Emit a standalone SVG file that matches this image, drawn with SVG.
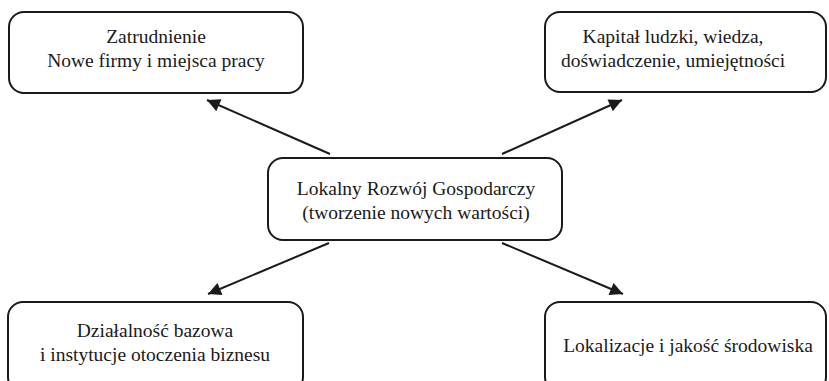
<svg xmlns="http://www.w3.org/2000/svg" width="829" height="381" viewBox="0 0 829 381">
  <style>
    .box { fill: #ffffff; stroke: #1a1a1a; stroke-width: 2; }
    .lbl { font-family: "Liberation Serif", "DejaVu Serif", serif; font-size: 19.5px; fill: #1a1a1a; text-anchor: middle; }
    .edge { stroke: #1a1a1a; stroke-width: 2; fill: none; marker-end: url(#arrow); }
  </style>
  <defs>
    <marker id="arrow" viewBox="0 0 10 10" refX="10" refY="5" markerWidth="8" markerHeight="6.5" markerUnits="strokeWidth" orient="auto">
      <path d="M0,0 L10,5 L0,10 Z" fill="#1a1a1a"/>
    </marker>
  </defs>
  <rect width="829" height="381" fill="#ffffff"/>

  <g id="connectors">
    <line class="edge" x1="330" y1="154" x2="207" y2="100"/>
    <line class="edge" x1="502" y1="154" x2="622" y2="100"/>
    <line class="edge" x1="329" y1="243" x2="208" y2="294"/>
    <line class="edge" x1="502" y1="243" x2="623" y2="294"/>
  </g>

  <g id="zatrudnienie">
    <rect class="box" x="9" y="12" width="294" height="81" rx="15"/>
    <text class="lbl" x="156" y="43">Zatrudnienie</text>
    <text class="lbl" x="156" y="67">Nowe firmy i miejsca pracy</text>
  </g>

  <g id="kapital">
    <rect class="box" x="545" y="12" width="281" height="80" rx="15"/>
    <text class="lbl" x="673" y="43">Kapitał ludzki, wiedza,</text>
    <text class="lbl" x="673" y="67">doświadczenie, umiejętności</text>
  </g>

  <g id="lrg">
    <rect class="box" x="268" y="158" width="294" height="82" rx="15"/>
    <text class="lbl" x="416" y="195">Lokalny Rozwój Gospodarczy</text>
    <text class="lbl" x="416" y="219">(tworzenie nowych wartości)</text>
  </g>

  <g id="dzialalnosc">
    <rect class="box" x="8" y="302" width="295" height="90" rx="15"/>
    <text class="lbl" x="155" y="337">Działalność bazowa</text>
    <text class="lbl" x="155" y="361">i instytucje otoczenia biznesu</text>
  </g>

  <g id="lokalizacje">
    <rect class="box" x="545" y="302" width="281" height="90" rx="15"/>
    <text class="lbl" x="688" y="352">Lokalizacje i jakość środowiska</text>
  </g>
</svg>
